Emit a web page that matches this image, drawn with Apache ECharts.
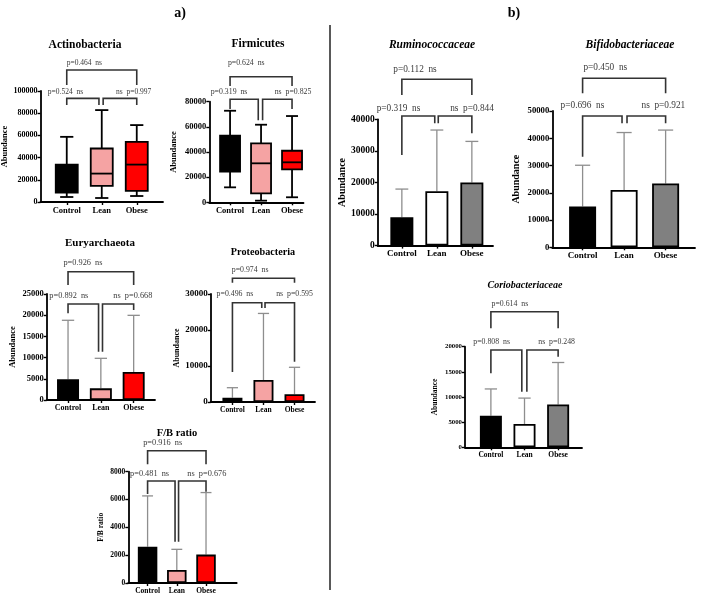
<!DOCTYPE html>
<html><head><meta charset="utf-8">
<script src="https://cdn.jsdelivr.net/npm/echarts@6/dist/echarts.min.js"></script>
<style>html,body{margin:0;padding:0;background:#fff}#c{width:702px;height:607px}</style>
</head><body><div id="c"></div>
<script>
// ---------------- DATA ----------------
const groups = ['Control', 'Lean', 'Obese'];

// Box plots: [min, Q1, median, Q3, max] for Control, Lean, Obese
const actinobacteriaBox = [[4500, 8400, 15000, 33700, 58700], [3600, 14500, 25600, 48200, 82800], [5400, 10000, 33700, 54200, 69300]];
const firmicutesBox = [[11900, 24400, 38000, 53000, 72800], [1300, 7150, 31000, 46900, 61700], [4000, 26200, 31800, 41000, 68600]];

// Bar charts: mean and top of error bar
const euryarchaeotaMean = [4900, 2750, 6600];
const euryarchaeotaUpper = [18800, 9830, 19970];
const proteobacteriaMean = [1200, 6100, 2140];
const proteobacteriaUpper = [3970, 24600, 9640];
const fbRatioMean = [2610, 935, 2040];
const fbRatioUpper = [6260, 2420, 6500];
const ruminococcaceaeMean = [9000, 17200, 20000];
const ruminococcaceaeUpper = [17900, 36600, 33000];
const bifidobacteriaceaeMean = [15000, 21000, 23400];
const bifidobacteriaceaeUpper = [30100, 42100, 43000];
const coriobacteriaceaeMean = [6270, 4620, 8530];
const coriobacteriaceaeUpper = [11600, 9780, 16860];

// p-values: [Control vs Obese, Control vs Lean, Lean vs Obese]
const actinobacteriaP = ['0.464', '0.524', '0.997'];
const firmicutesP = ['0.624', '0.319', '0.825'];
const euryarchaeotaP = ['0.926', '0.892', '0.668'];
const proteobacteriaP = ['0.974', '0.496', '0.595'];
const fbRatioP = ['0.916', '0.481', '0.676'];
const ruminococcaceaeP = ['0.112', '0.319', '0.844'];
const bifidobacteriaceaeP = ['0.450', '0.696', '0.921'];
const coriobacteriaceaeP = ['0.614', '0.808', '0.248'];

// ---------------- STYLE / LAYOUT ----------------
const FONT = '"Liberation Serif", "Times New Roman", serif';
const colorsA = ['#000000', '#F5A3A3', '#FF0000'];
const colorsB = ['#000000', '#FFFFFF', '#808080'];

// br: bracket [x1, x2, yLine, leg1Bottom, leg2Bottom] (data units); tx: label anchors [x, y]
const panels = [
  {title: 'Actinobacteria', tPos: [85, 45], tFont: 11.5, italic: false, kind: 'box', box: actinobacteriaBox, p: actinobacteriaP, colors: colorsA, yName: 'Abundance',
   grid: [40.5, 91, 122.5, 111], x: [0.25, 3.75], yMax: 100000, yStep: 20000, markW: 22,
   tickFont: 8, catFont: 8.5, nameGap: 26, nameFont: 8.5, pFont: 7.5,
   br: [[1, 3, 118900, 105400, 105400], [1, 1.92, 93400, 87400, 87400], [2.04, 3, 93400, 87400, 87400]],
   tx: [[1.0, 125200], [0.46, 99100], [2.41, 99100]]},
  {title: 'Firmicutes', tPos: [258, 44], tFont: 11.5, italic: false, kind: 'box', box: firmicutesBox, p: firmicutesP, colors: colorsA, yName: 'Abundance',
   grid: [209.3, 101.7, 94.2, 100.6], x: [0.33, 3.37], yMax: 80000, yStep: 20000, markW: 20,
   tickFont: 8.5, catFont: 8.5, nameGap: 31, nameFont: 8.5, pFont: 7.8,
   br: [[1, 3, 99900, 92500, 92500], [1, 1.91, 81900, 74100, 65300], [2.05, 3, 81900, 65300, 74100]],
   tx: [[0.93, 110800], [0.375, 88000], [2.44, 88000]]},
  {title: 'Euryarchaeota', tPos: [100, 243], tFont: 11, italic: false, kind: 'bar', mean: euryarchaeotaMean, upper: euryarchaeotaUpper, p: euryarchaeotaP, colors: colorsA, yName: 'Abundance',
   grid: [46.7, 294, 108.3, 106], x: [0.35, 3.65], yMax: 25000, yStep: 5000, markW: 22,
   tickFont: 8.5, catFont: 8, nameGap: 29, nameFont: 8.5, pFont: 8.3,
   br: [[1, 3, 30260, 27120, 27120], [1, 1.93, 22640, 20450, 11390], [2.05, 3, 22640, 11390, 21230]],
   tx: [[0.86, 32300], [0.43, 24600], [2.38, 24600]]},
  {title: 'Proteobacteria', tPos: [263, 252], tFont: 10.2, italic: false, kind: 'bar', mean: proteobacteriaMean, upper: proteobacteriaUpper, p: proteobacteriaP, colors: colorsA, yName: 'Abundance',
   grid: [210.7, 294, 104.3, 108], x: [0.3, 3.66], yMax: 30000, yStep: 10000, markW: 20,
   tickFont: 9, catFont: 7.5, nameGap: 27, nameFont: 8, pFont: 7.8,
   br: [[1, 3, 34360, 33140, 33140], [1, 1.945, 27580, 8330, 26100], [2.05, 3, 27580, 26100, 11190]],
   tx: [[0.98, 36670], [0.49, 30000], [2.41, 30000]]},
  {title: 'F/B ratio', tPos: [177, 433], tFont: 10.5, italic: false, kind: 'bar', mean: fbRatioMean, upper: fbRatioUpper, p: fbRatioP, colors: colorsA, yName: 'F/B ratio',
   grid: [128.3, 471.7, 108.4, 111.3], x: [0.34, 4.05], yMax: 8000, yStep: 2000, markW: 19.5,
   tickFont: 7.5, catFont: 7.5, nameGap: 23, nameFont: 7.5, pFont: 8.3,
   br: [[1, 3, 9510, 8530, 8530], [1, 1.94, 7330, 6400, 2970], [2.06, 3, 7330, 2970, 6560]],
   tx: [[0.85, 10040], [0.40, 7840], [2.36, 7840]]},
  {title: 'Ruminococcaceae', tPos: [432, 45], tFont: 11.5, italic: true, kind: 'bar', mean: ruminococcaceaeMean, upper: ruminococcaceaeUpper, p: ruminococcaceaeP, colors: colorsB, yName: 'Abundance',
   grid: [377.7, 119.3, 115.3, 126.3], x: [0.31, 3.604], yMax: 40000, yStep: 10000, markW: 23,
   tickFont: 9.5, catFont: 9, nameGap: 30, nameFont: 10, pFont: 9.3,
   br: [[1, 3, 52670, 47700, 47700], [1, 1.94, 41050, 28690, 38730], [2.04, 3, 41050, 38730, 35570]],
   tx: [[0.756, 55610], [0.28, 43480], [2.38, 43480]]},
  {title: 'Bifidobacteriaceae', tPos: [630, 45], tFont: 11.5, italic: true, kind: 'bar', mean: bifidobacteriaceaeMean, upper: bifidobacteriaceaeUpper, p: bifidobacteriaceaeP, colors: colorsB, yName: 'Abundance',
   grid: [552.3, 111, 142.7, 136.3], x: [0.27, 3.708], yMax: 50000, yStep: 10000, markW: 27,
   tickFont: 8.7, catFont: 9, nameGap: 31, nameFont: 10, pFont: 9.3,
   br: [[1, 3, 62000, 56490, 56490], [1, 1.95, 48170, 33240, 45490], [2.07, 3, 48170, 45490, 45490]],
   tx: [[1.02, 66030], [0.47, 51830], [2.42, 51830]]},
  {title: 'Coriobacteriaceae', tPos: [525, 285], tFont: 10, italic: true, kind: 'bar', mean: coriobacteriaceaeMean, upper: coriobacteriaceaeUpper, p: coriobacteriaceaeP, colors: colorsB, yName: 'Abundance',
   grid: [465, 346.7, 117, 100.6], x: [0.23, 3.71], yMax: 20000, yStep: 5000, markW: 22,
   tickFont: 6.8, catFont: 7.5, nameGap: 26, nameFont: 7.5, pFont: 7.8,
   br: [[1, 3, 26960, 23660, 23660], [1, 1.92, 19340, 14710, 11050], [2.07, 3, 19340, 11050, 18010]],
   tx: [[1.02, 28490], [0.477, 20990], [2.41, 20990]]}
];

// ---------------- BUILD ----------------
const option = {animation: false, backgroundColor: '#ffffff', grid: [], xAxis: [], yAxis: [], series: [], graphic: []};

panels.forEach((P, i) => {
  option.grid.push({left: P.grid[0], top: P.grid[1], width: P.grid[2], height: P.grid[3], containLabel: false, outerBoundsMode: 'none'});
  option.xAxis.push({
    type: 'value', gridIndex: i, min: P.x[0], max: P.x[1], splitLine: {show: false},
    axisLine: {show: true, onZero: false, lineStyle: {color: '#000', width: 1.8}},
    axisTick: {show: true, customValues: [1, 2, 3], length: 3, lineStyle: {color: '#000', width: 1.4}},
    axisLabel: {show: true, customValues: [1, 2, 3], formatter: v => groups[Math.round(v) - 1] || '', margin: 4,
      fontSize: P.catFont, fontWeight: 'bold', fontFamily: FONT, color: '#000'}
  });
  option.yAxis.push({
    type: 'value', gridIndex: i, min: 0, max: P.yMax, interval: P.yStep, splitLine: {show: false},
    axisLine: {show: true, lineStyle: {color: '#000', width: 1.8}},
    axisTick: {show: true, length: 3, lineStyle: {color: '#000', width: 1.4}},
    axisLabel: {margin: 3, fontSize: P.tickFont, fontWeight: 'bold', fontFamily: FONT, color: '#000', formatter: v => String(v)},
    name: P.yName, nameLocation: 'middle', nameGap: P.nameGap,
    nameTextStyle: {fontSize: P.nameFont, fontWeight: 'bold', fontFamily: FONT, color: '#000'}
  });

  if (P.kind === 'box') {
    option.series.push({
      type: 'custom', xAxisIndex: i, yAxisIndex: i, z: 3, silent: true,
      data: P.box.map((b, j) => [j + 1].concat(b)),
      renderItem: (params, api) => {
        const x = api.value(0);
        const c = v => api.coord([x, v]);
        const pMin = c(api.value(1)), pQ1 = c(api.value(2)), pMd = c(api.value(3)), pQ3 = c(api.value(4)), pMax = c(api.value(5));
        const hw = P.markW / 2, cw = P.markW * 0.3;
        const st = {stroke: '#000', lineWidth: 1.8, fill: null};
        return {type: 'group', children: [
          {type: 'line', shape: {x1: pMin[0], y1: pMin[1], x2: pQ1[0], y2: pQ1[1]}, style: st},
          {type: 'line', shape: {x1: pQ3[0], y1: pQ3[1], x2: pMax[0], y2: pMax[1]}, style: st},
          {type: 'line', shape: {x1: pMin[0] - cw, y1: pMin[1], x2: pMin[0] + cw, y2: pMin[1]}, style: st},
          {type: 'line', shape: {x1: pMax[0] - cw, y1: pMax[1], x2: pMax[0] + cw, y2: pMax[1]}, style: st},
          {type: 'rect', shape: {x: pQ3[0] - hw, y: pQ3[1], width: 2 * hw, height: pQ1[1] - pQ3[1]},
            style: {fill: P.colors[params.dataIndex], stroke: '#000', lineWidth: 1.8}},
          {type: 'line', shape: {x1: pMd[0] - hw, y1: pMd[1], x2: pMd[0] + hw, y2: pMd[1]}, style: st}
        ]};
      }
    });
  } else {
    option.series.push({
      type: 'custom', xAxisIndex: i, yAxisIndex: i, z: 2, silent: true,
      data: P.mean.map((m, j) => [j + 1, m, P.upper[j]]),
      renderItem: (params, api) => {
        const x = api.value(0);
        const a = api.coord([x, api.value(1)]), b = api.coord([x, api.value(2)]);
        const cw = P.markW * 0.28;
        const st = {stroke: '#8e8e8e', lineWidth: 1.3, fill: null};
        return {type: 'group', children: [
          {type: 'line', shape: {x1: a[0], y1: a[1], x2: b[0], y2: b[1]}, style: st},
          {type: 'line', shape: {x1: b[0] - cw, y1: b[1], x2: b[0] + cw, y2: b[1]}, style: st}
        ]};
      }
    });
    option.series.push({
      type: 'bar', xAxisIndex: i, yAxisIndex: i, z: 3, silent: true, barWidth: P.markW,
      data: P.mean.map((m, j) => ({value: [j + 1, m], itemStyle: {color: P.colors[j], borderColor: '#000', borderWidth: 1.8}}))
    });
  }

  // significance brackets
  option.series.push({
    type: 'custom', xAxisIndex: i, yAxisIndex: i, z: 4, silent: true, clip: false,
    data: P.br,
    renderItem: (params, api) => {
      const x1 = api.value(0), x2 = api.value(1), y = api.value(2);
      const pts = [api.coord([x1, api.value(3)]), api.coord([x1, y]), api.coord([x2, y]), api.coord([x2, api.value(4)])];
      return {type: 'polyline', shape: {points: pts}, style: {stroke: '#333', lineWidth: 1.6, fill: null}};
    }
  });
  // p-value labels
  const labels = ['p=' + P.p[0] + '  ns', 'p=' + P.p[1] + '  ns', 'ns  p=' + P.p[2]];
  option.series.push({
    type: 'custom', xAxisIndex: i, yAxisIndex: i, z: 5, silent: true, clip: false,
    data: P.tx,
    renderItem: (params, api) => {
      const pt = api.coord([api.value(0), api.value(1)]);
      return {type: 'text', x: pt[0], y: pt[1], style: {text: labels[params.dataIndex], fontSize: P.pFont, fontFamily: FONT,
        fill: '#3a3a3a', align: 'left', verticalAlign: 'middle'}};
    }
  });

  option.graphic.push({type: 'text', x: P.tPos[0], y: P.tPos[1], silent: true,
    style: {text: P.title, fontSize: P.tFont, fontWeight: 'bold', fontStyle: P.italic ? 'italic' : 'normal', fontFamily: FONT,
      fill: '#000', align: 'center', verticalAlign: 'middle'}});
});

option.graphic.push({type: 'text', x: 180, y: 13, silent: true, style: {text: 'a)', fontSize: 14, fontWeight: 'bold', fontFamily: FONT, fill: '#000', align: 'center', verticalAlign: 'middle'}});
option.graphic.push({type: 'text', x: 514, y: 13, silent: true, style: {text: 'b)', fontSize: 14, fontWeight: 'bold', fontFamily: FONT, fill: '#000', align: 'center', verticalAlign: 'middle'}});
option.graphic.push({type: 'line', silent: true, shape: {x1: 330, y1: 25, x2: 330, y2: 590}, style: {stroke: '#222', lineWidth: 1.5}});

const chart = echarts.init(document.getElementById('c'), null, {renderer: 'canvas', width: 702, height: 607});
chart.setOption(option);
</script>
</body></html>
